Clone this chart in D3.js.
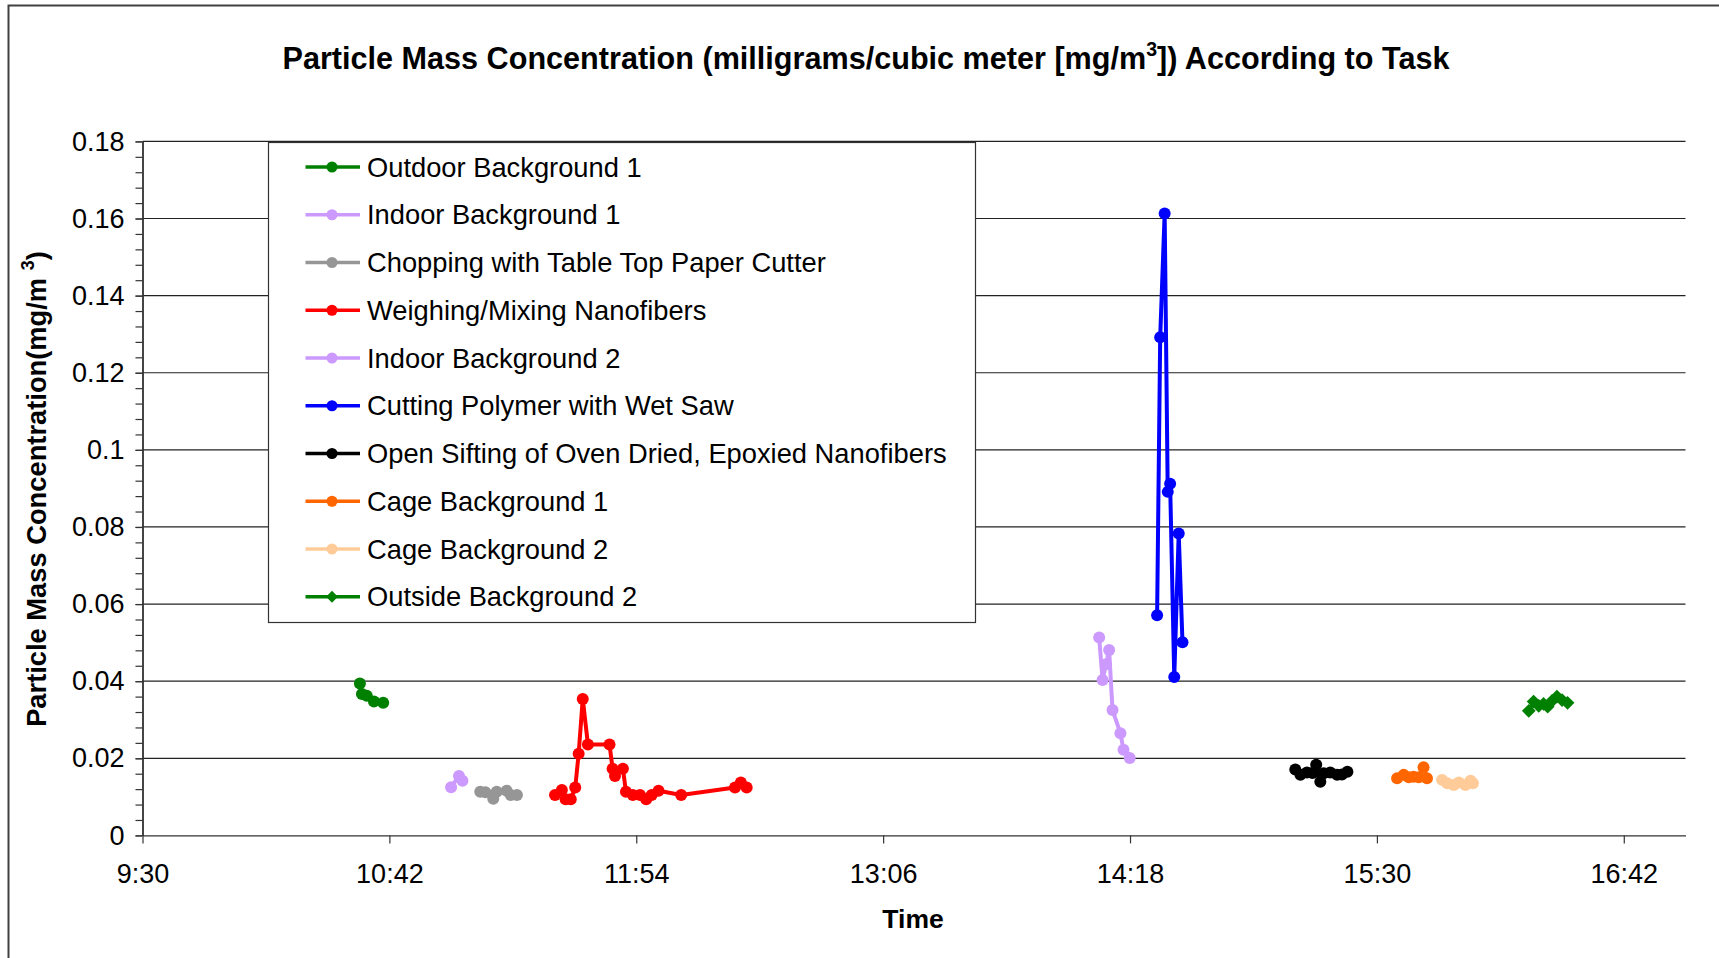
<!DOCTYPE html>
<html>
<head>
<meta charset="utf-8">
<script src="https://cdn.jsdelivr.net/npm/d3@7"></script>
<style>
  body { margin: 0; background: #fff; }
  svg { display: block; font-family: "Liberation Sans", Arial, sans-serif; }
</style>
</head>
<body>
<svg width="1719" height="958"></svg>
<script>
// readings: [clock time, mg/m3]
const outdoorBg1 = [["10:33:24",0.0394],["10:34:00",0.0367],["10:35:24",0.0362],["10:37:30",0.0347],["10:40:12",0.0344]];
const indoorBg1 = [["11:00:00",0.0125],["11:02:18",0.0154],["11:03:18",0.0142]];
const chopping = [["11:08:30",0.0113],["11:10:00",0.0112],["11:12:18",0.0095],["11:13:18",0.0113],["11:16:12",0.0116],["11:17:24",0.0105],["11:19:12",0.0105]];
const weighing = [["11:30:18",0.0105],["11:32:18",0.0118],["11:33:24",0.0094],["11:34:54",0.0094],["11:36:12",0.0124],["11:37:12",0.0212],["11:38:24",0.0354],["11:39:54",0.0236],["11:46:12",0.0236],["11:47:06",0.0173],["11:47:48",0.0154],["11:50:06",0.0173],["11:51:00",0.0113],["11:53:00",0.0105],["11:55:06",0.0105],["11:56:54",0.0094],["11:58:30",0.0105],["12:00:30",0.0116],["12:07:06",0.0105],["12:22:48",0.0124],["12:24:30",0.0137],["12:26:12",0.0124]];
const indoorBg2 = [["14:09:00",0.0513],["14:10:00",0.0403],["14:11:00",0.0444],["14:11:54",0.0481],["14:12:54",0.0325],["14:15:12",0.0265],["14:16:06",0.0222],["14:17:54",0.0201]];
const wetSaw = [["14:25:54",0.0571],["14:26:48",0.1292],["14:28:06",0.1613],["14:29:00",0.0891],["14:29:42",0.0912],["14:30:54",0.0411],["14:32:12",0.0783],["14:33:18",0.0501]];
const sifting = [["15:06:12",0.0171],["15:07:42",0.0157],["15:09:36",0.0163],["15:11:12",0.0162],["15:12:18",0.0183],["15:13:30",0.0139],["15:14:30",0.0161],["15:16:24",0.0163],["15:18:24",0.0157],["15:19:48",0.0158],["15:21:24",0.0165]];
const cageBg1 = [["15:35:54",0.0148],["15:37:48",0.0157],["15:39:18",0.0151],["15:40:42",0.0152],["15:42:12",0.0151],["15:43:36",0.0177],["15:44:36",0.0148]];
const cageBg2 = [["15:49:00",0.0144],["15:50:30",0.0135],["15:52:24",0.0131],["15:53:54",0.0137],["15:55:48",0.0131],["15:57:18",0.0142],["15:58:00",0.0135]];
const outsideBg2 = [["16:14:18",0.0323],["16:15:42",0.0347],["16:17:12",0.0336],["16:18:36",0.0341],["16:19:48",0.0334],["16:21:06",0.0349],["16:22:30",0.0360],["16:24:00",0.0351],["16:25:36",0.0344]];

const seriesNames = ["Outdoor Background 1","Indoor Background 1","Chopping with Table Top Paper Cutter","Weighing/Mixing Nanofibers","Indoor Background 2","Cutting Polymer with Wet Saw","Open Sifting of Oven Dried, Epoxied Nanofibers","Cage Background 1","Cage Background 2","Outside Background 2"];
const seriesData = [outdoorBg1, indoorBg1, chopping, weighing, indoorBg2, wetSaw, sifting, cageBg1, cageBg2, outsideBg2];
const seriesColors = ["#008000","#cc99ff","#969696","#ff0000","#cc99ff","#0000ff","#000000","#ff6600","#ffcc99","#008000"];
const seriesMarkers = ["circle","circle","circle","circle","circle","circle","circle","circle","circle","diamond"];

const xTickLabels = ["9:30","10:42","11:54","13:06","14:18","15:30","16:42"];
const xDomain = ["9:30","17:00"];
const yTickValues = [0,0.02,0.04,0.06,0.08,0.1,0.12,0.14,0.16,0.18];

const margin = { top: 141.4, right: 33.5, bottom: 122.6, left: 142.5 },
      width = 1719 - margin.left - margin.right,
      height = 958 - margin.top - margin.bottom;

const svg = d3.select("svg");

// outer frame (only top/left edges show in the picture)
svg.append("rect")
  .attr("x", 8.5).attr("y", 5.5)
  .attr("width", 1740).attr("height", 1000)
  .attr("fill", "none").attr("stroke", "#404040").attr("stroke-width", 2);

const parseClock = d3.timeParse("%H:%M:%S");
const parseTick = d3.timeParse("%H:%M");

const x = d3.scaleTime()
  .domain(xDomain.map(parseTick))
  .range([0, width]);
const y = d3.scaleLinear()
  .domain([0, 0.18])
  .range([height, 0]);

const g = svg.append("g")
  .attr("transform", `translate(${margin.left},${margin.top})`);

// gridlines
g.append("g")
  .selectAll("line")
  .data(yTickValues.filter(d => d > 0))
  .join("line")
  .attr("x1", 0).attr("x2", width)
  .attr("y1", d => y(d)).attr("y2", d => y(d))
  .attr("stroke", "#222").attr("stroke-width", 1.2);

// axes
const xAxis = g.append("g")
  .attr("transform", `translate(0,${height})`)
  .call(d3.axisBottom(x)
    .tickValues(xTickLabels.map(parseTick))
    .tickFormat(d3.timeFormat("%-H:%M"))
    .tickSize(8).tickSizeOuter(0).tickPadding(20));

const yMinor = g.append("g")
  .call(d3.axisLeft(y)
    .tickValues(d3.range(0, 0.1801, 0.004))
    .tickFormat("")
    .tickSize(7).tickSizeOuter(0));

const yAxis = g.append("g")
  .call(d3.axisLeft(y)
    .tickValues(yTickValues)
    .tickFormat(d => d3.format("")(+d.toFixed(2)))
    .tickSize(7).tickSizeOuter(0).tickPadding(11));

[xAxis, yAxis, yMinor].forEach(a => {
  a.selectAll(".domain").attr("stroke", "#333").attr("stroke-width", 1.4);
  a.selectAll(".tick line").attr("stroke", "#333").attr("stroke-width", 1.2);
  a.selectAll("text").attr("font-size", 27).attr("fill", "#000")
    .attr("font-family", "Liberation Sans, Arial, sans-serif");
});

// series
const line = d3.line()
  .x(d => x(parseClock(d[0])))
  .y(d => y(d[1]));

const diamond = d3.symbol(d3.symbolSquare, 95);

seriesData.forEach((data, i) => {
  const s = g.append("g");
  s.append("path")
    .datum(data)
    .attr("fill", "none")
    .attr("stroke", seriesColors[i])
    .attr("stroke-width", 4)
    .attr("stroke-linejoin", "round")
    .attr("d", line);
  if (seriesMarkers[i] === "diamond") {
    s.selectAll("path.m")
      .data(data)
      .join("path")
      .attr("class", "m")
      .attr("d", diamond)
      .attr("transform", d => `translate(${x(parseClock(d[0]))},${y(d[1])}) rotate(45)`)
      .attr("fill", seriesColors[i]);
  } else {
    s.selectAll("circle")
      .data(data)
      .join("circle")
      .attr("cx", d => x(parseClock(d[0])))
      .attr("cy", d => y(d[1]))
      .attr("r", 6)
      .attr("fill", seriesColors[i]);
  }
});

// legend
const legend = svg.append("g");
legend.append("rect")
  .attr("x", 268.5).attr("y", 142.5)
  .attr("width", 707).attr("height", 480)
  .attr("fill", "#fff").attr("stroke", "#333").attr("stroke-width", 1.2);

seriesNames.forEach((name, i) => {
  const ly = 167 + i * 47.75;
  const item = legend.append("g").attr("transform", `translate(0,${ly})`);
  item.append("line")
    .attr("x1", 305.5).attr("x2", 360)
    .attr("stroke", seriesColors[i]).attr("stroke-width", 3.7);
  if (seriesMarkers[i] === "diamond") {
    item.append("path")
      .attr("d", d3.symbol(d3.symbolSquare, 70))
      .attr("transform", "translate(332,0) rotate(45)")
      .attr("fill", seriesColors[i]);
  } else {
    item.append("circle")
      .attr("cx", 332).attr("r", 5.5)
      .attr("fill", seriesColors[i]);
  }
  item.append("text")
    .attr("x", 367).attr("dy", "0.35em")
    .attr("font-size", 27.3)
    .text(name);
});

// title
const title = svg.append("text")
  .attr("x", 866).attr("y", 69)
  .attr("text-anchor", "middle")
  .attr("font-size", 30.6).attr("font-weight", "bold");
title.append("tspan").text("Particle Mass Concentration (milligrams/cubic meter [mg/m");
title.append("tspan").attr("font-size", 19.5).attr("dy", -13).text("3");
title.append("tspan").attr("dy", 13).text("]) According to Task");

// axis titles
svg.append("text")
  .attr("x", 913).attr("y", 928)
  .attr("text-anchor", "middle")
  .attr("font-size", 26.5).attr("font-weight", "bold")
  .text("Time");

const yTitle = svg.append("text")
  .attr("transform", "translate(46,489) rotate(-90)")
  .attr("text-anchor", "middle")
  .attr("font-size", 27.3).attr("font-weight", "bold");
yTitle.append("tspan").text("Particle Mass Concentration(mg/m ");
yTitle.append("tspan").attr("font-size", 18).attr("dy", -12).text("3");
yTitle.append("tspan").attr("dy", 12).text(")");
</script>
</body>
</html>
